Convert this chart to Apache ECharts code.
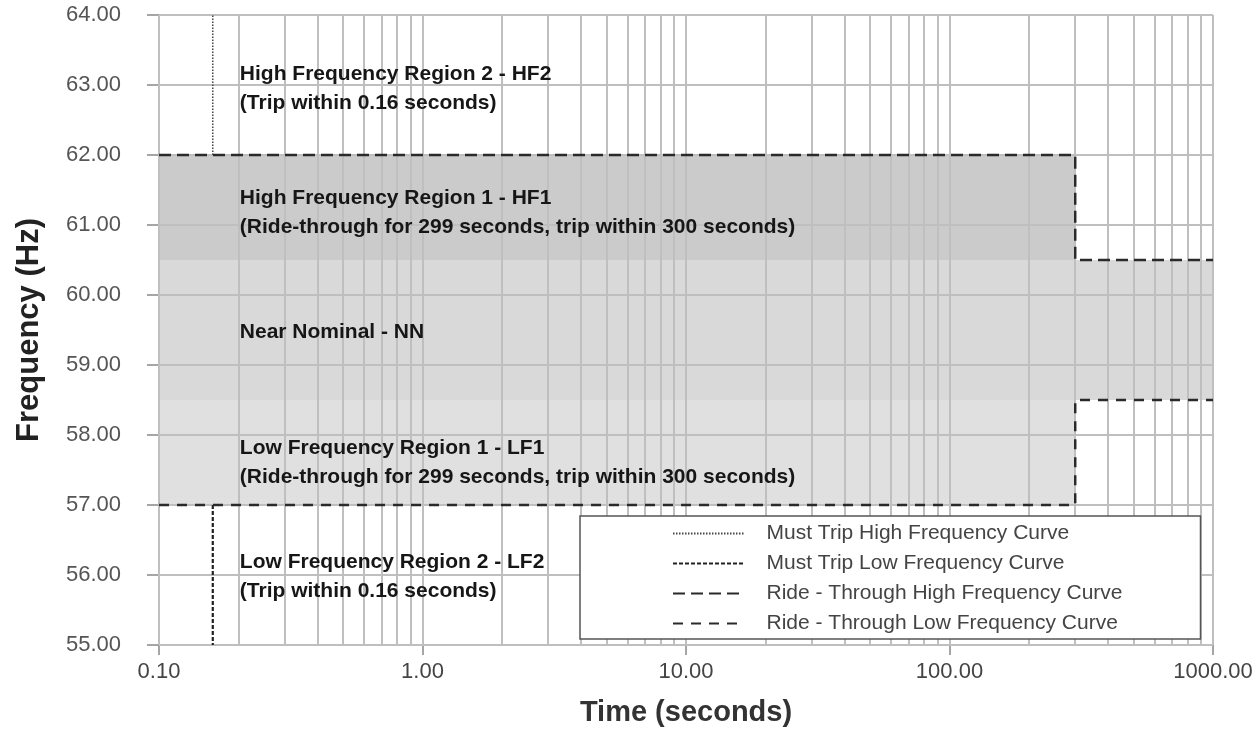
<!DOCTYPE html>
<html>
<head>
<meta charset="utf-8">
<script src="https://cdn.jsdelivr.net/npm/echarts@6/dist/echarts.min.js"></script>
<style>
  html, body { margin: 0; padding: 0; background: #ffffff; }
  #chart { width: 1257px; height: 740px; }
</style>
</head>
<body>
<div id="chart"></div>
<script>
// ---- data ----
const xTickValues = [0.1, 1, 10, 100, 1000];
const yTickValues = [55, 56, 57, 58, 59, 60, 61, 62, 63, 64];
const minorMultiples = [2, 3, 4, 5, 6, 7, 8, 9];

// curves: [time (s), frequency (Hz)]
const mustTripHigh = [[0.16, 62], [0.16, 64]];
const mustTripLow = [[0.16, 57], [0.16, 55]];
const rideThroughHigh = [[0.1, 62], [300, 62], [300, 60.5], [1000, 60.5]];
const rideThroughLow = [[0.1, 57], [300, 57], [300, 58.5], [1000, 58.5]];

// shaded regions: [tStart, tEnd, fLow, fHigh]
const regionHF1 = [0.1, 300, 60.5, 62];
const regionNN = [0.1, 1000, 58.5, 60.5];
const regionLF1 = [0.1, 300, 57, 58.5];

// region annotations
const annotationTexts = [
  'High Frequency Region 2 - HF2\n(Trip within 0.16 seconds)',
  'High Frequency Region 1 - HF1\n(Ride-through for 299 seconds, trip within 300 seconds)',
  'Near Nominal - NN',
  'Low Frequency Region 1 - LF1\n(Ride-through for 299 seconds, trip within 300 seconds)',
  'Low Frequency Region 2 - LF2\n(Trip within 0.16 seconds)'
];
const annotationAnchors = [[0.2, 62.94], [0.2, 61.17], [0.2, 59.47], [0.2, 57.61], [0.2, 55.97]];

const seriesNames = [
  'Must Trip High Frequency Curve',
  'Must Trip Low Frequency Curve',
  'Ride - Through High Frequency Curve',
  'Ride - Through Low Frequency Curve'
];

// ---- build ----
const FONT = "'Liberation Sans', Arial, Helvetica, sans-serif";
const verticalGrid = [];
[0.1, 1, 10, 100].forEach(d => {
  verticalGrid.push(d);
  minorMultiples.forEach(m => verticalGrid.push(+(d * m).toPrecision(3)));
});
verticalGrid.push(1000);

const gridLineData = verticalGrid.map(v => ({ xAxis: v }))
  .concat(yTickValues.map(v => ({ yAxis: v })));

function area(r, color) {
  return [{ xAxis: r[0], yAxis: r[3], itemStyle: { color: color } }, { xAxis: r[1], yAxis: r[2] }];
}

const chart = echarts.init(document.getElementById('chart'), null, { renderer: 'canvas' });

chart.setOption({
  animation: false,
  backgroundColor: '#ffffff',
  grid: { left: 159, right: 44, top: 15, bottom: 95 },
  legend: {
    orient: 'vertical',
    left: 580,
    top: 516,
    z: 10,
    backgroundColor: '#ffffff',
    borderColor: '#555555',
    borderWidth: 1.5,
    padding: [7, 78, 5, 92],
    itemWidth: 71,
    itemHeight: 14,
    itemGap: 9,
    selectedMode: false,
    formatter: name => '   ' + name,
    itemStyle: { color: 'rgba(0,0,0,0)', borderWidth: 0 },
    textStyle: { fontFamily: FONT, fontSize: 21, color: '#444444' },
    data: seriesNames
  },
  xAxis: {
    type: 'log',
    logBase: 10,
    min: 0.1,
    max: 1000,
    name: 'Time (seconds)',
    nameLocation: 'middle',
    nameGap: 53,
    nameTextStyle: { fontFamily: FONT, fontSize: 29, fontWeight: 'bold', color: '#333333' },
    axisLine: { show: true, lineStyle: { color: '#888888', width: 1.5 } },
    axisTick: { show: true, length: 10, lineStyle: { color: '#888888', width: 1.5 } },
    axisLabel: {
      margin: 16, fontFamily: FONT, fontSize: 22, color: '#444444',
      formatter: v => Number(v).toFixed(2)
    },
    splitLine: { show: false }
  },
  yAxis: {
    type: 'value',
    min: 55,
    max: 64,
    interval: 1,
    name: 'Frequency (Hz)',
    nameLocation: 'middle',
    nameGap: 114,
    nameTextStyle: { fontFamily: FONT, fontSize: 31, fontWeight: 'bold', color: '#222222' },
    axisLine: { show: true, lineStyle: { color: '#888888', width: 1.5 } },
    axisTick: { show: true, length: 12, lineStyle: { color: '#888888', width: 1.5 } },
    axisLabel: {
      margin: 38, fontFamily: FONT, fontSize: 22, color: '#555555',
      formatter: v => Number(v).toFixed(2)
    },
    splitLine: { show: false }
  },
  series: [
    {
      name: 'regions',
      type: 'line',
      z: 1,
      data: [],
      silent: true,
      markArea: {
        silent: true,
        z: 1,
        data: [
          area(regionHF1, '#cbcbcb'),
          area(regionNN, '#d9d9d9'),
          area(regionLF1, '#e0e0e0')
        ]
      }
    },
    {
      name: 'gridlines',
      type: 'line',
      z: 2,
      data: [],
      silent: true,
      markLine: {
        silent: true,
        z: 2,
        symbol: ['none', 'none'],
        label: { show: false },
        lineStyle: { color: '#bfbfbf', width: 2, type: 'solid' },
        data: gridLineData
      }
    },
    {
      name: seriesNames[0],
      type: 'line',
      z: 5,
      data: mustTripHigh,
      symbol: 'none',
      color: '#555555',
      lineStyle: { color: '#444444', width: 1.5, type: [1.5, 1.5] }
    },
    {
      name: seriesNames[1],
      type: 'line',
      z: 5,
      data: mustTripLow,
      symbol: 'none',
      color: '#222222',
      lineStyle: { color: '#222222', width: 2.2, type: [4, 2] }
    },
    {
      name: seriesNames[2],
      type: 'line',
      z: 5,
      data: rideThroughHigh,
      symbol: 'none',
      color: '#2a2a2a',
      lineStyle: { color: '#2a2a2a', width: 2.5, type: [12, 6] }
    },
    {
      name: seriesNames[3],
      type: 'line',
      z: 5,
      data: rideThroughLow,
      symbol: 'none',
      color: '#2a2a2a',
      lineStyle: { color: '#2a2a2a', width: 2.5, type: [10, 8] }
    },
    {
      name: 'annotations',
      type: 'scatter',
      z: 6,
      silent: true,
      symbolSize: 1,
      itemStyle: { color: 'rgba(0,0,0,0)', opacity: 1 },
      data: annotationTexts.map((t, i) => ({ name: t, value: annotationAnchors[i] })),
      label: {
        show: true,
        position: 'right',
        distance: 1,
        formatter: '{b}',
        fontFamily: FONT,
        fontSize: 21,
        fontWeight: 'bold',
        color: '#161616',
        opacity: 1,
        lineHeight: 29
      }
    }
  ]
});
</script>
</body>
</html>
